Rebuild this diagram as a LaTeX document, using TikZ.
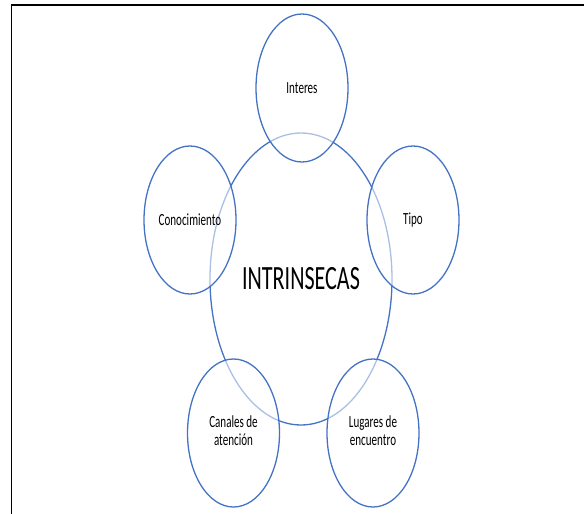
\documentclass[tikz,border=0pt]{standalone}
\usepackage{fontspec}
\setmainfont{Carlito}
\usetikzlibrary{shapes.geometric}
\definecolor{ringblue}{HTML}{4472C4}
\newcommand{\narrow}[1]{\scalebox{0.65}[1]{#1}}
\newcommand{\twolines}[2]{\narrow{\begin{tabular}{@{}c@{}}#1\\#2\end{tabular}}}

\begin{document}
\begin{tikzpicture}[x=1pt, y=-1pt,
    hub/.style={ellipse, draw=ringblue, line width=1.3pt, minimum width=182pt, minimum height=292pt, inner sep=0pt, font=\fontsize{34}{40}\selectfont},
    leaf/.style={ellipse, draw=ringblue, line width=1.3pt, fill=white, fill opacity=0.55, text opacity=1, minimum width=92pt, minimum height=148pt, inner sep=0pt, font=\fontsize{17}{18.5}\selectfont}]
    \useasboundingbox (0,0) rectangle (584,514);

    % Frame
    \draw[line width=1.6pt] (11.5,514) -- (11.5,5) -- (584,5);

    % Centre
    \node[hub] (hub) at (301,279) {\narrow{INTRINSECAS}};

    % Outer ellipses
    \node[leaf] (interes) at (302,88) {\narrow{Interes}};
    \node[leaf] (conoc) at (190,220) {\narrow{Conocimiento}};
    \node[leaf] (tipo) at (413,220) {\narrow{Tipo}};
    \node[leaf] (canales) at (233.5,433) {\twolines{Canales de}{atención}};
    \node[leaf] (lugares) at (373,433) {\twolines{Lugares de}{encuentro}};
\end{tikzpicture}
\end{document}
